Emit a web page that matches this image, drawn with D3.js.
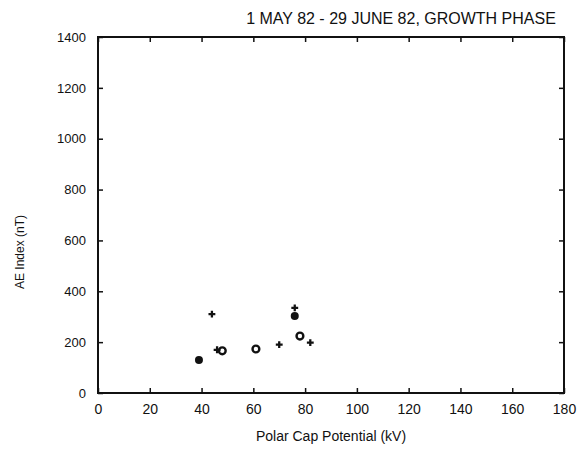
<!DOCTYPE html>
<html>
<head>
<meta charset="utf-8">
<script src="https://cdn.jsdelivr.net/npm/d3@7/dist/d3.min.js"></script>
<style>
  html, body { margin: 0; padding: 0; background: #fff; }
  svg { display: block; }
  text { font-family: "Liberation Sans", "DejaVu Sans", sans-serif; fill: #111; }
</style>
</head>
<body>
<svg id="chart" width="580" height="450"></svg>
<script>
// Polar cap potential (kV) vs AE index (nT), 1 May 82 - 29 June 82, growth phase
const titleText = "1 MAY 82  -  29 JUNE 82, GROWTH PHASE";
const xLabel = "Polar Cap Potential (kV)";
const yLabel = "AE Index (nT)";

const xTicks = [0, 20, 40, 60, 80, 100, 120, 140, 160, 180];
const yTicks = [0, 200, 400, 600, 800, 1000, 1200, 1400];

// solid circle points [kV, nT]
const solidPts = [[39, 130], [76, 303]];
// open circle points
const ringPts = [[48, 166], [61, 173], [78, 224]];
// plus-sign points
const plusPts = [[44, 310], [46, 170], [70, 190], [76, 335], [82, 198]];

const svg = d3.select("#chart");
const L = 98, R = 564, T = 37, B = 393;

const x = d3.scaleLinear().domain([0, 180]).range([L, R]);
const y = d3.scaleLinear().domain([0, 1400]).range([B, T]);

// frame
svg.append("rect")
  .attr("x", L).attr("y", T).attr("width", R - L).attr("height", B - T)
  .attr("fill", "none").attr("stroke", "#111").attr("stroke-width", 2);

const tickLen = 5;
// bottom axis with inward ticks
svg.append("g")
  .attr("transform", `translate(0,${B})`)
  .call(d3.axisBottom(x).tickValues(xTicks).tickFormat(d3.format("d"))
    .tickSizeInner(-tickLen).tickSizeOuter(0).tickPadding(9))
  .call(g => g.select(".domain").remove())
  .call(g => g.selectAll("line").attr("stroke", "#111").attr("stroke-width", 1.5))
  .call(g => g.selectAll("text").attr("font-size", 14).attr("dy", "0.85em"));

// top axis ticks
svg.append("g")
  .attr("transform", `translate(0,${T})`)
  .call(d3.axisTop(x).tickValues(xTicks).tickSizeInner(-tickLen).tickSizeOuter(0).tickFormat(""))
  .call(g => g.select(".domain").remove())
  .call(g => g.selectAll("line").attr("stroke", "#111").attr("stroke-width", 1.5));

// left axis
svg.append("g")
  .attr("transform", `translate(${L},0)`)
  .call(d3.axisLeft(y).tickValues(yTicks).tickFormat(d3.format("d"))
    .tickSizeInner(-tickLen).tickSizeOuter(0).tickPadding(12))
  .call(g => g.select(".domain").remove())
  .call(g => g.selectAll("line").attr("stroke", "#111").attr("stroke-width", 1.5))
  .call(g => g.selectAll("text").attr("font-size", 13));

// right axis ticks
svg.append("g")
  .attr("transform", `translate(${R},0)`)
  .call(d3.axisRight(y).tickValues(yTicks).tickSizeInner(-tickLen).tickSizeOuter(0).tickFormat(""))
  .call(g => g.select(".domain").remove())
  .call(g => g.selectAll("line").attr("stroke", "#111").attr("stroke-width", 1.5));

// title
svg.append("text")
  .attr("x", 401).attr("y", 24)
  .attr("text-anchor", "middle")
  .attr("font-size", 16)
  .text(titleText);

// axis titles
svg.append("text")
  .attr("x", 331).attr("y", 441)
  .attr("text-anchor", "middle")
  .attr("font-size", 14)
  .text(xLabel);

svg.append("text")
  .attr("transform", `translate(24,252) rotate(-90)`)
  .attr("text-anchor", "middle")
  .attr("font-size", 12)
  .text(yLabel);

// markers
svg.append("g").selectAll("circle").data(solidPts).join("circle")
  .attr("cx", d => x(d[0])).attr("cy", d => y(d[1]))
  .attr("r", 4).attr("fill", "#111");

svg.append("g").selectAll("circle").data(ringPts).join("circle")
  .attr("cx", d => x(d[0])).attr("cy", d => y(d[1]))
  .attr("r", 3.4).attr("fill", "#fff").attr("stroke", "#111").attr("stroke-width", 2.4);

const plusSym = d3.symbol().type(d3.symbolCross).size(26);
svg.append("g").selectAll("path").data(plusPts).join("path")
  .attr("transform", d => `translate(${x(d[0])},${y(d[1])})`)
  .attr("d", plusSym).attr("fill", "#111");
</script>
</body>
</html>
